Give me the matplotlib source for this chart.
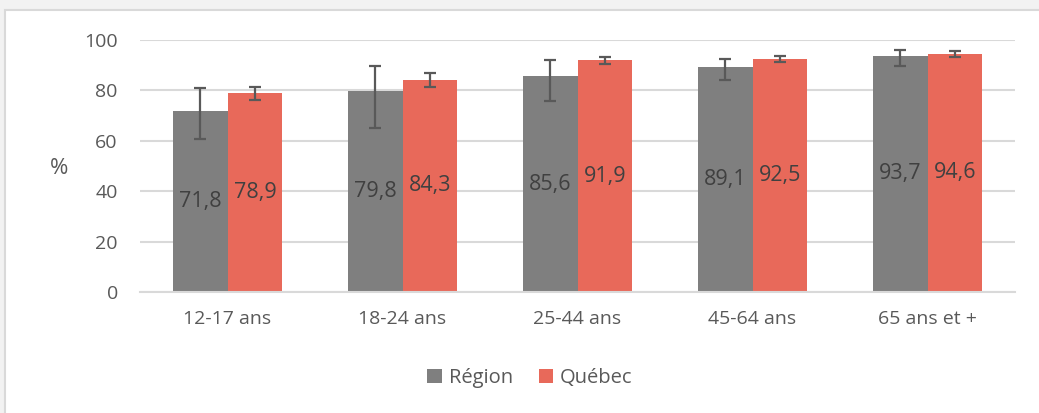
import numpy as np
import matplotlib
matplotlib.use('Agg')
import matplotlib.pyplot as plt
from matplotlib.patches import Rectangle

plt.rcParams['font.family'] = ['Open Sans', 'DejaVu Sans']

# data
categories = ['12-17 ans', '18-24 ans', '25-44 ans', '45-64 ans', '65 ans et +']
region = [71.8, 79.8, 85.6, 89.1, 93.7]
quebec = [78.9, 84.3, 91.9, 92.5, 94.6]
# confidence interval bounds
region_low = [60.6, 65.1, 75.7, 84.1, 89.8]
region_high = [80.8, 89.6, 92.1, 92.6, 96.2]
quebec_low = [76.1, 81.2, 90.6, 91.3, 93.1]
quebec_high = [81.5, 87.0, 93.1, 93.5, 95.8]

region_color = '#7f7f7f'
quebec_color = '#e8695a'
text_color = '#595959'
grid_color = '#d9d9d9'

fig = plt.figure(figsize=(10.39, 4.13), dpi=100)
fig.patch.set_facecolor('#f2f2f2')
# white chart area with frame
fig.patches.append(Rectangle((5 / 1039, -0.1), 1.2, (413 - 10) / 413 + 0.1,
                             transform=fig.transFigure, facecolor='white',
                             edgecolor=grid_color, linewidth=1.5, zorder=-10))

ax = fig.add_axes([140 / 1039, (413 - 292) / 413, 875 / 1039, 252 / 413])
ax.set_zorder(5)
ax.set_facecolor('none')

x = np.arange(len(categories))
w = 0.314

r = np.array(region)
q = np.array(quebec)
r_err = [r - np.array(region_low), np.array(region_high) - r]
q_err = [q - np.array(quebec_low), np.array(quebec_high) - q]

ekw = dict(ecolor='#595959', elinewidth=1.6, capsize=4.2, capthick=1.6)
ax.bar(x - w / 2, region, w, color=region_color, label='Région', zorder=2,
       yerr=r_err, error_kw=ekw)
ax.bar(x + w / 2, quebec, w, color=quebec_color, label='Québec', zorder=2,
       yerr=q_err, error_kw=ekw)

for i in range(len(categories)):
    ax.text(x[i] - w / 2, region[i] / 2, f'{region[i]:.1f}'.replace('.', ','),
            ha='center', va='center', fontsize=15.5, color='#404040', zorder=3)
    ax.text(x[i] + w / 2, quebec[i] / 2, f'{quebec[i]:.1f}'.replace('.', ','),
            ha='center', va='center', fontsize=15.5, color='#404040', zorder=3)

ax.set_xlim(-0.5, len(categories) - 0.5)
ax.set_ylim(0, 100)
ax.set_yticks(range(0, 101, 20))
ax.set_xticks(x)
ax.set_xticklabels(categories)
ax.tick_params(axis='both', length=0, labelsize=14, labelcolor=text_color)
ax.tick_params(axis='y', pad=16)
ax.tick_params(axis='x', pad=13)
ax.grid(axis='y', color=grid_color, linewidth=1.5, zorder=0)
ax.set_axisbelow(True)
for s in ['top', 'right', 'left']:
    ax.spines[s].set_visible(False)
ax.spines['bottom'].set_color(grid_color)
ax.spines['bottom'].set_linewidth(1.5)

fig.text(59 / 1039, (413 - 168) / 413, '%', ha='center', va='center',
         fontsize=16, color=text_color)

fig.legend(loc='center', bbox_to_anchor=(530 / 1039, (413 - 378) / 413),
           ncol=2, frameon=False, fontsize=14.5, labelcolor=text_color,
           handlelength=0.7, handleheight=0.7, handletextpad=0.35,
           columnspacing=1.3)

plt.savefig('out.png', dpi=100, facecolor=fig.get_facecolor())
